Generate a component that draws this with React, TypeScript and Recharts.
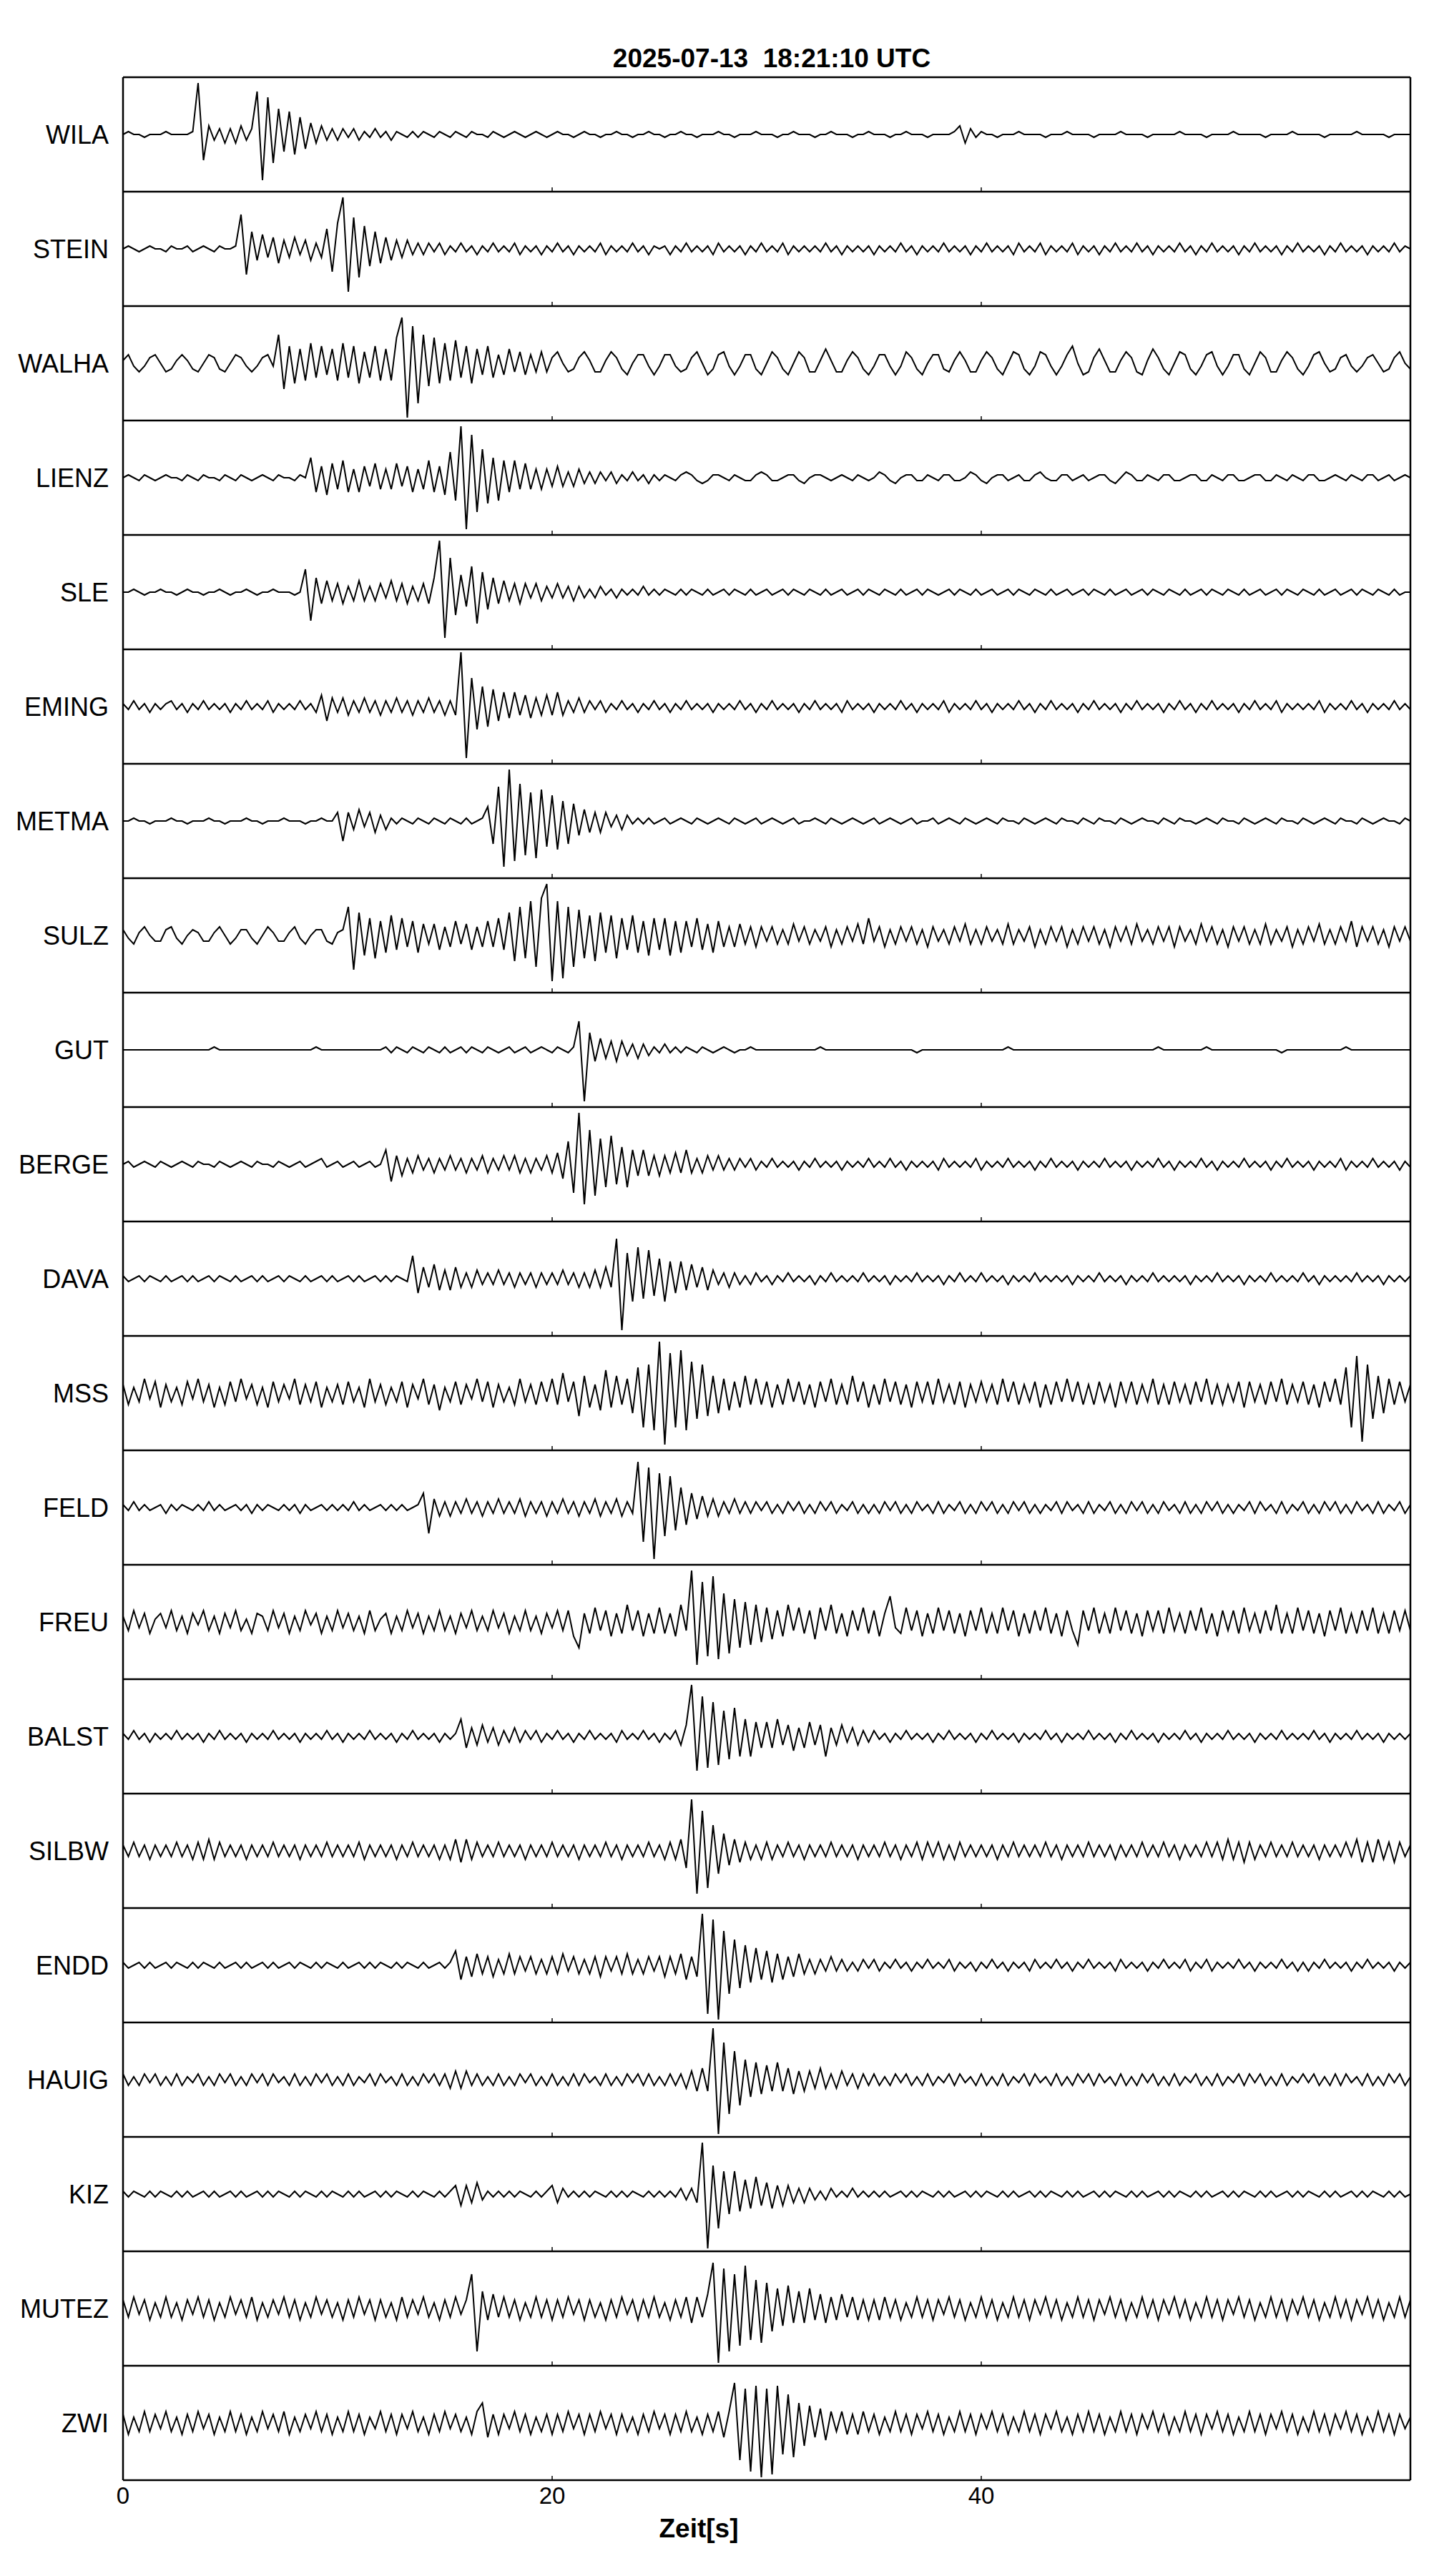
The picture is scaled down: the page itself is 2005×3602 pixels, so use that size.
import React from "react";
import { LineChart, Line, XAxis, YAxis, ReferenceLine } from "recharts";

// station names, top to bottom
const STATIONS = ["WILA", "STEIN", "WALHA", "LIENZ", "SLE", "EMING", "METMA", "SULZ", "GUT", "BERGE", "DAVA", "MSS", "FELD", "FREU", "BALST", "SILBW", "ENDD", "HAUIG", "KIZ", "MUTEZ", "ZWI"];

// x axis
const X_TICKS = [0, 20, 40];
const STEP = 0.25; // seconds between samples

// traces, amplitude in panel units (+-20 = panel edge), one sample per 0.25 s
const wila = [
  0, 1, 0, 0, -1, 0, 0, 0, 1, 0, 0, 0, 0, 1, 18, -9, 3, -2, 2, -3,
  2, -3, 3, -2, 2, 15, -16, 13, -10, 9, -6, 8, -7, 6, -5, 4, -3, 3, -2, 2,
  -2, 2, -1, 2, -2, 1, -1, 2, -1, 1, -2, 1, 0, -1, 1, -1, 1, 0, -1, 1,
  0, -1, 1, 0, -1, 1, 0, 0, -1, 1, 0, -1, 0, 1, 0, -1, 0, 1, 0, -1,
  0, 1, 0, 0, -1, 0, 1, 0, 0, -1, 0, 0, 1, 0, 0, -1, 0, 0, 1, 0,
  0, -1, 0, 0, 1, 0, 0, -1, 0, 0, 0, 1, 0, 0, -1, 0, 0, 0, 1, 0,
  0, 0, -1, 0, 0, 1, 0, 0, 0, -1, 0, 0, 1, 0, 0, 0, -1, 0, 0, 1,
  0, 0, 0, -1, 0, 0, 1, 0, 0, 0, -1, 0, 0, 0, 0, 1, 3, -3, 2, -1,
  1, 0, 0, -1, 0, 0, 0, 1, 0, 0, 0, 0, -1, 0, 0, 0, 1, 0, 0, 0,
  0, -1, 0, 0, 0, 0, 1, 0, 0, 0, 0, -1, 0, 0, 0, 0, 0, 1, 0, 0,
  0, 0, -1, 0, 0, 0, 0, 1, 0, 0, 0, 0, 0, -1, 0, 0, 0, 0, 1, 0,
  0, 0, 0, 0, -1, 0, 0, 0, 0, 0, 1, 0, 0, 0, 0, 0, -1, 0, 0, 0, 0,
];
const stein = [
  0, 1, 0, -1, 0, 1, 0, 0, -1, 1, 0, 0, 1, -1, 0, 1, 0, -1, 1, 0,
  0, 1, 12, -9, 6, -4, 5, -3, 4, -5, 3, -3, 4, -2, 3, -4, 2, -3, 7, -8,
  9, 18, -15, 11, -10, 8, -6, 6, -5, 4, -4, 3, -3, 3, -2, 2, -2, 2, -1, 2,
  -2, 1, -1, 2, -1, 1, -2, 1, -1, 2, -1, 1, -1, 2, -2, 1, -1, 1, -2, 1,
  -1, 2, -1, 1, -2, 1, -1, 1, -1, 2, -2, 1, -1, 1, -1, 2, -1, 1, -2, 1,
  0, 1, -2, 1, -1, 2, -1, 1, -1, 1, -2, 2, -1, 1, -1, 1, -2, 1, -1, 2,
  -1, 1, -1, 2, -2, 1, -1, 1, -1, 1, -1, 2, -1, 1, -2, 1, -1, 1, -1, 1,
  -2, 1, -1, 1, -1, 2, -1, 1, -2, 1, -1, 1, -1, 2, -1, 1, -1, 1, -2, 1,
  -1, 2, -1, 1, -1, 1, -2, 2, -1, 1, -1, 2, -2, 1, -1, 1, -1, 2, -2, 1,
  -1, 1, -2, 1, -1, 2, -1, 1, -1, 2, -1, 1, -2, 1, -1, 1, -1, 2, -1, 1,
  -2, 1, -1, 2, -1, 1, -1, 1, -2, 1, -1, 2, -1, 1, -1, 1, -2, 1, -1, 2,
  -1, 1, -1, 1, -2, 1, -1, 2, -1, 1, -1, 1, -2, 1, -1, 1, -1, 2, -1, 1, 0,
];
const walha = [
  1, 3, -1, -3, -1, 2, 3, 0, -3, -2, 1, 3, 1, -2, -3, 0, 3, 2, -2, -3,
  0, 3, 2, -1, -3, -1, 2, 3, -1, 10, -9, 6, -7, 5, -6, 7, -5, 6, -4, 5,
  -6, 7, -5, 6, -7, 4, -5, 6, -6, 5, -6, 9, 16, -19, 13, -14, 10, -8, 9, -7,
  7, -6, 8, -5, 6, -7, 5, -4, 6, -5, 3, -4, 5, -3, 4, -4, 3, -3, 4, -3,
  2, 4, 0, -3, -2, 2, 4, 1, -3, -3, 1, 4, 2, -2, -4, 0, 3, 3, -1, -4,
  -1, 3, 3, -1, -3, -2, 2, 4, 0, -4, -2, 3, 4, -1, -4, -1, 3, 3, -2, -4,
  0, 4, 2, -2, -4, 0, 4, 2, -3, -3, 1, 5, 1, -3, -3, 1, 4, 2, -2, -4,
  -1, 3, 3, -1, -4, -1, 4, 2, -2, -4, 0, 3, 3, -2, -3, 1, 4, 1, -3, -3,
  1, 4, 2, -2, -4, 0, 4, 3, -2, -4, -1, 4, 3, -1, -4, -1, 3, 6, 0, -4,
  -3, 2, 5, 1, -3, -3, 1, 4, 2, -3, -4, 1, 5, 2, -2, -4, 0, 4, 3, -2,
  -4, -1, 3, 4, -1, -4, -1, 3, 3, -2, -4, 0, 4, 2, -3, -3, 1, 4, 2, -2,
  -4, -1, 3, 4, 0, -3, -2, 2, 3, -1, -3, -1, 2, 3, 0, -3, -2, 2, 4, 0, -2,
];
const lienz = [
  0, 1, 0, -1, 1, 0, -1, 0, 1, 0, 0, -1, 1, 0, -1, 1, 0, 0, -1, 1,
  0, -1, 1, 0, -1, 0, 1, 0, -1, 1, 0, 0, -1, 1, 0, 7, -5, 4, -6, 5,
  -4, 6, -5, 3, -5, 4, -3, 5, -4, 3, -4, 5, -3, 4, -5, 3, -4, 6, -5, 4,
  -6, 9, -8, 18, -18, 15, -12, 10, -9, 7, -8, 6, -5, 6, -4, 5, -4, 3, -4, 3,
  -3, 4, -3, 2, -3, 3, -2, 2, -2, 2, -1, 2, -2, 1, -1, 2, -1, 1, -2, 1,
  -1, 1, 0, -1, 1, 2, 1, -1, -2, -1, 1, 1, 0, -1, 1, 0, -1, -1, 1, 2,
  1, -1, -1, 0, 1, 1, -1, -2, 0, 1, 1, 0, -1, 0, 1, 0, -1, 1, 0, -1,
  0, 2, 1, -1, -2, 0, 1, 1, -1, -1, 1, 0, -1, 1, 1, -1, -1, 0, 2, 1,
  -1, -2, 0, 1, 1, -1, 0, 1, -1, -1, 1, 2, 0, -1, -1, 1, 1, -1, 0, 1,
  -1, 0, 1, 1, -1, -2, 0, 2, 1, -1, -1, 1, 0, -1, 1, 1, -1, -1, 0, 1,
  1, -1, -1, 1, 0, -1, 1, 1, -1, -1, 0, 1, 1, -1, -1, 1, 0, -1, 1, 0,
  -1, 1, 1, -1, -1, 0, 1, 0, -1, 1, 0, -1, 1, 1, -1, 0, 1, -1, 0, 1, 0,
];
const sle = [
  0, 0, 1, 0, -1, 0, 0, 1, 0, 0, -1, 0, 1, 0, 0, -1, 0, 0, 1, 0,
  -1, 0, 0, 1, 0, -1, 0, 0, 1, 0, 0, 0, -1, 0, 8, -10, 5, -4, 4, -3,
  3, -4, 2, -3, 4, -3, 2, -3, 3, -2, 4, -3, 3, -4, 2, -3, 3, -4, 5, 18,
  -16, 12, -8, 6, -5, 9, -11, 7, -6, 5, -4, 4, -3, 3, -4, 3, -2, 3, -3, 2,
  -2, 3, -2, 2, -3, 2, -2, 1, -2, 2, -1, 1, -2, 1, -1, 1, -1, 2, -1, 1,
  -1, 1, 0, -1, 1, -1, 1, 0, -1, 1, -1, 0, 1, -1, 1, 0, -1, 1, -1, 0,
  1, -1, 0, 1, -1, 1, 0, -1, 1, 0, -1, 1, -1, 0, 1, -1, 0, 1, -1, 1,
  0, -1, 1, 0, -1, 1, -1, 0, 1, -1, 1, 0, -1, 0, 1, -1, 1, 0, -1, 1,
  -1, 0, 1, -1, 0, 1, -1, 1, 0, -1, 1, 0, -1, 1, -1, 0, 1, -1, 0, 1,
  -1, 1, 0, -1, 1, -1, 0, 1, -1, 0, 1, -1, 1, 0, -1, 1, 0, -1, 1, -1,
  0, 1, -1, 1, 0, -1, 1, 0, -1, 1, -1, 0, 1, -1, 0, 1, -1, 1, 0, -1,
  1, 0, -1, 1, -1, 0, 1, -1, 0, 1, -1, 1, 0, -1, 1, 0, -1, 1, -1, 0, 0,
];
const eming = [
  1, -1, 2, -1, 1, -2, 1, -1, 1, 2, -1, 1, -2, 1, -1, 2, -1, 1, -1, 1,
  -2, 1, -1, 2, -1, 1, -1, 2, -2, 1, -1, 1, -1, 2, -1, 1, -2, 4, -5, 3,
  -2, 3, -3, 2, -2, 3, -2, 2, -3, 2, -2, 3, -2, 2, -3, 2, -2, 3, -2, 2,
  -3, 2, -3, 19, -18, 10, -8, 7, -7, 6, -5, 5, -4, 5, -3, 4, -4, 3, -3, 4,
  -3, 5, -3, 2, -2, 3, -2, 2, -1, 2, -2, 1, -1, 2, -1, 1, -2, 1, -1, 2,
  -1, 1, -2, 1, -1, 2, -1, 1, -1, 1, -2, 1, -1, 1, -1, 2, -1, 1, -2, 1,
  -1, 2, -1, 1, -1, 1, -2, 1, -1, 2, -1, 1, -1, 1, -2, 2, -1, 1, -1, 1,
  -2, 1, -1, 1, -1, 2, -1, 1, -2, 1, -1, 1, -1, 2, -2, 1, -1, 1, -1, 2,
  -1, 1, -2, 1, -1, 1, -1, 2, -1, 1, -2, 1, -1, 2, -1, 1, -1, 1, -2, 1,
  -1, 2, -1, 1, -1, 1, -2, 1, -1, 2, -1, 1, -1, 1, -2, 1, -1, 2, -1, 1,
  -2, 1, -1, 2, -1, 1, -1, 1, -2, 1, -1, 2, -1, 1, -1, 2, -2, 1, -1, 1,
  -1, 1, -1, 2, -2, 1, -1, 1, -1, 2, -1, 1, -2, 1, -1, 1, -1, 2, -1, 1, -1,
];
const metma = [
  0, 0, 1, 0, 0, -1, 0, 0, 0, 1, 0, 0, -1, 0, 0, 0, 1, 0, 0, -1,
  0, 0, 0, 1, 0, 0, -1, 0, 0, 0, 1, 0, 0, 0, -1, 0, 0, 1, 0, 0,
  3, -7, 3, -3, 4, -2, 3, -4, 2, -3, 1, -1, 1, 0, -1, 1, 0, -1, 1, 0,
  -1, 1, 0, -1, 1, -1, 0, 1, 5, -8, 12, -16, 18, -14, 13, -12, 10, -13, 11, -9,
  9, -10, 7, -8, 6, -5, 4, -4, 3, -4, 3, -2, 2, -3, 2, -1, 1, -1, 1, -1,
  0, 1, -1, 0, 1, 0, -1, 1, 0, -1, 0, 1, 0, -1, 1, 0, -1, 0, 1, -1,
  0, 1, 0, -1, 0, 1, -1, 0, 0, 1, 0, -1, 1, 0, -1, 0, 1, 0, -1, 0,
  1, -1, 0, 1, 0, -1, 0, 1, -1, 0, 0, 1, -1, 0, 1, 0, -1, 1, 0, -1,
  0, 1, 0, -1, 1, 0, 0, -1, 1, 0, -1, 0, 1, 0, -1, 1, 0, 0, -1, 1,
  0, -1, 1, 0, 0, -1, 1, 0, -1, 0, 1, 0, 0, -1, 1, 0, -1, 1, 0, 0,
  -1, 0, 1, 0, -1, 1, 0, 0, -1, 1, 0, -1, 0, 1, 0, -1, 1, 0, 0, -1,
  1, 0, -1, 0, 1, 0, -1, 1, 0, 0, -1, 1, 0, -1, 0, 1, 0, 0, -1, 1, 0,
];
const sulz = [
  2, -1, -3, 1, 3, 0, -2, -2, 2, 3, -1, -3, 0, 2, 1, -2, -2, 1, 3, 0,
  -3, -1, 2, 2, -1, -3, 0, 3, 1, -2, -2, 1, 3, -1, -3, 0, 2, 2, -2, -3,
  1, 2, 10, -12, 8, -7, 6, -8, 5, -6, 7, -5, 6, -4, 5, -6, 4, -3, 4, -5,
  3, -4, 5, -3, 4, -5, 3, -4, 5, -4, 6, -5, 8, -9, 10, -8, 12, -11, 13, 18,
  -16, 12, -15, 10, -11, 9, -8, 7, -9, 8, -6, 7, -8, 6, -5, 7, -6, 5, -7, 6,
  -5, 6, -7, 5, -6, 5, -4, 6, -5, 4, -6, 5, -4, 3, -4, 4, -3, 3, -4, 3,
  -2, 3, -3, 2, -3, 4, -2, 3, -3, 2, -2, 3, -4, 2, -3, 3, -2, 4, -3, 6,
  -2, 3, -4, 2, -3, 3, -2, 3, -3, 2, -4, 3, -2, 2, -3, 3, -2, 4, -3, 2,
  -3, 3, -2, 2, -3, 4, -3, 2, -2, 3, -4, 2, -3, 3, -2, 3, -4, 2, -3, 3,
  -2, 3, -3, 2, -4, 3, -2, 3, -3, 4, -2, 2, -3, 3, -2, 3, -4, 3, -2, 2,
  -3, 4, -2, 3, -3, 2, -4, 3, -2, 3, -3, 2, -3, 4, -3, 2, -2, 3, -4, 2,
  -3, 3, -2, 4, -3, 2, -3, 3, -2, 5, -4, 3, -2, 3, -3, 2, -4, 3, -2, 3, -2,
];
const gut = [
  0, 0, 0, 0, 0, 0, 0, 0, 0, 0, 0, 0, 0, 0, 0, 0, 0, 1, 0, 0,
  0, 0, 0, 0, 0, 0, 0, 0, 0, 0, 0, 0, 0, 0, 0, 0, 1, 0, 0, 0,
  0, 0, 0, 0, 0, 0, 0, 0, 0, 1, -1, 1, 0, -1, 1, 0, -1, 1, 0, -1,
  1, -1, 0, 1, -1, 1, 0, -1, 1, 0, -1, 0, 1, -1, 0, 1, -1, 0, 1, 0,
  -1, 1, 0, -1, 1, 10, -18, 6, -4, 4, -3, 3, -4, 3, -2, 2, -3, 2, -2, 1,
  -1, 2, -1, 1, -1, 1, 0, -1, 1, 0, -1, 0, 1, 0, -1, 0, 0, 1, 0, 0,
  0, 0, 0, 0, 0, 0, 0, 0, 0, 0, 1, 0, 0, 0, 0, 0, 0, 0, 0, 0,
  0, 0, 0, 0, 0, 0, 0, 0, -1, 0, 0, 0, 0, 0, 0, 0, 0, 0, 0, 0,
  0, 0, 0, 0, 0, 1, 0, 0, 0, 0, 0, 0, 0, 0, 0, 0, 0, 0, 0, 0,
  0, 0, 0, 0, 0, 0, 0, 0, 0, 0, 0, 0, 0, 1, 0, 0, 0, 0, 0, 0,
  0, 0, 1, 0, 0, 0, 0, 0, 0, 0, 0, 0, 0, 0, 0, 0, -1, 0, 0, 0,
  0, 0, 0, 0, 0, 0, 0, 0, 1, 0, 0, 0, 0, 0, 0, 0, 0, 0, 0, 0, 0,
];
const berge = [
  0, 1, -1, 0, 1, 0, -1, 1, 0, -1, 0, 1, 0, -1, 1, 0, 0, -1, 1, 0,
  -1, 0, 1, 0, -1, 1, 0, 0, -1, 1, 0, -1, 0, 1, -1, 0, 1, 2, -1, 0,
  1, -1, 0, 1, -1, 0, 1, -1, 0, 5, -6, 3, -4, 2, -3, 3, -2, 2, -3, 2,
  -2, 3, -2, 2, -3, 2, -2, 3, -3, 2, -2, 3, -2, 3, -3, 2, -3, 2, -2, 3,
  -3, 4, -5, 8, -10, 18, -14, 12, -11, 9, -8, 10, -7, 6, -8, 5, -4, 5, -4, 3,
  -4, 3, -3, 4, -3, 5, -3, 2, -3, 3, -2, 3, -2, 2, -2, 2, -1, 2, -2, 1,
  -1, 2, -1, 1, -1, 1, -2, 1, -1, 2, -1, 1, -1, 1, -2, 1, -1, 1, -1, 2,
  -1, 1, -1, 2, -1, 1, -2, 1, -1, 1, -1, 1, -2, 2, -1, 1, -1, 1, -1, 2,
  -2, 1, -1, 1, -1, 2, -1, 1, -1, 1, -2, 1, -1, 2, -1, 1, -1, 1, -2, 1,
  -1, 1, -1, 2, -1, 1, -1, 1, -2, 1, -1, 1, -1, 2, -1, 1, -2, 1, -1, 1,
  -1, 2, -1, 1, -2, 1, -1, 1, -1, 2, -1, 1, -1, 1, -2, 1, -1, 2, -1, 1,
  -1, 1, -2, 1, -1, 1, -1, 2, -2, 1, -1, 1, -1, 2, -1, 1, -1, 1, -2, 1, -1,
];
const dava = [
  1, -1, 0, 1, -1, 1, 0, -1, 1, -1, 0, 1, -1, 1, -1, 0, 1, -1, 1, 0,
  -1, 1, -1, 0, 1, -1, 1, -1, 0, 1, -1, 1, 0, -1, 1, -1, 0, 1, -1, 1,
  -1, 0, 1, -1, 1, -1, 0, 1, -1, 1, -1, 1, 0, -1, 8, -5, 4, -3, 5, -4,
  3, -4, 4, -3, 2, -3, 3, -2, 2, -2, 3, -2, 2, -3, 2, -2, 2, -3, 2, -2,
  2, -2, 3, -2, 2, -3, 2, -3, 3, -3, 4, -3, 14, -18, 9, -8, 11, -7, 10, -6,
  7, -8, 6, -5, 6, -4, 5, -3, 4, -4, 3, -2, 2, -3, 2, -2, 1, -2, 2, -1,
  1, -2, 1, -1, 2, -1, 1, -1, 1, -2, 1, -1, 2, -1, 1, -1, 1, -1, 2, -1,
  1, -1, 1, -2, 1, -1, 1, -1, 2, -1, 1, -1, 1, -2, 1, -1, 2, -1, 1, -1,
  2, -1, 1, -1, 1, -2, 1, -1, 1, -1, 2, -1, 1, -1, 1, -1, 1, -2, 1, -1,
  1, -1, 2, -1, 1, -1, 1, -2, 1, -1, 1, -1, 2, -1, 1, -1, 1, -1, 1, -2,
  1, -1, 1, -1, 2, -1, 1, -1, 1, -2, 1, -1, 1, -1, 2, -1, 1, -1, 1, -1,
  2, -1, 1, -2, 1, -1, 1, -1, 1, -1, 2, -1, 1, -1, 1, -2, 1, -1, 1, -1, 1,
];
const mss = [
  3, -4, 2, -3, 5, -2, 4, -5, 3, -3, 2, -4, 4, -2, 5, -3, 3, -5, 2, -4,
  4, -3, 5, -2, 3, -4, 2, -5, 4, -3, 3, -2, 5, -4, 3, -3, 4, -5, 2, -3,
  3, -4, 4, -3, 2, -5, 5, -3, 3, -4, 2, -3, 4, -5, 3, -2, 5, -4, 3, -6,
  2, -3, 4, -4, 3, -2, 5, -3, 4, -5, 3, -3, 2, -4, 5, -3, 3, -4, 4, -3,
  5, -4, 7, -3, 4, -8, 6, -5, 3, -6, 8, -5, 6, -4, 5, -7, 9, -12, 10, -13,
  18, -18, 14, -12, 15, -13, 11, -9, 10, -8, 6, -7, 5, -6, 4, -5, 6, -4, 5, -4,
  4, -5, 3, -4, 5, -3, 4, -4, 3, -5, 4, -3, 5, -4, 3, -4, 6, -3, 4, -5,
  3, -4, 5, -3, 4, -4, 3, -5, 4, -3, 4, -4, 5, -3, 3, -4, 4, -5, 3, -3,
  4, -3, 3, -4, 5, -3, 4, -4, 3, -3, 4, -5, 3, -4, 4, -3, 5, -3, 4, -4,
  3, -4, 4, -3, 3, -5, 4, -3, 4, -4, 3, -3, 5, -4, 3, -4, 4, -3, 3, -4,
  4, -3, 5, -4, 3, -4, 3, -3, 4, -5, 4, -3, 3, -4, 4, -3, 5, -4, 3, -3,
  4, -4, 3, -5, 4, -3, 5, -4, 9, -12, 13, -17, 10, -9, 6, -7, 5, -4, 4, -3, 3,
];
const feld = [
  1, -1, 2, -1, 1, -1, 0, 1, -2, 1, -1, 1, 0, -1, 1, -1, 2, -1, 1, -1,
  0, 1, -1, 1, -2, 1, -1, 1, 0, -1, 1, -1, 1, -2, 1, -1, 0, 1, -1, 1,
  -1, 1, -1, 2, -1, 1, -1, 0, 1, -1, 1, -1, 1, -1, 0, 1, 5, -9, 3, -3,
  2, -3, 2, -2, 3, -2, 2, -3, 2, -2, 3, -2, 2, -2, 3, -3, 2, -2, 2, -3,
  2, -2, 3, -2, 2, -3, 2, -2, 3, -3, 2, -2, 3, -3, 2, -2, 16, -12, 14, -18,
  12, -10, 11, -8, 7, -6, 5, -4, 4, -3, 3, -3, 2, -2, 3, -2, 2, -2, 2, -1,
  2, -2, 1, -2, 2, -1, 2, -2, 1, -2, 2, -1, 2, -2, 1, -1, 2, -2, 1, -2,
  1, -2, 2, -1, 2, -2, 1, -2, 2, -1, 1, -2, 2, -2, 1, -1, 2, -2, 1, -2,
  2, -1, 2, -2, 1, -2, 2, -1, 2, -2, 1, -2, 1, -1, 2, -2, 2, -1, 1, -2,
  2, -2, 1, -1, 2, -2, 1, -2, 2, -1, 2, -2, 1, -2, 2, -1, 1, -2, 2, -2,
  1, -2, 2, -1, 2, -2, 1, -2, 1, -1, 2, -2, 2, -1, 1, -2, 2, -2, 1, -1,
  2, -2, 1, -2, 2, -1, 2, -2, 1, -2, 2, -1, 1, -2, 2, -2, 1, -1, 2, -2, 1,
];
const freu = [
  2, -3, 4, -2, 3, -4, 1, 3, -2, 4, -3, 2, -4, 3, -1, 4, -3, 2, -4, 3,
  -2, 4, -3, 1, -4, 3, 2, -3, 4, -2, 3, -4, 2, -3, 4, -1, 3, -4, 2, -3,
  4, -2, 3, -3, 2, -4, 4, -3, 1, 3, -4, 2, -3, 4, -2, 3, -4, 2, -3, 4,
  -3, 2, -4, 3, -2, 4, -3, 2, -3, 4, -2, 3, -4, 2, -3, 4, -3, 2, -4, 3,
  -2, 4, -3, 4, -5, -9, 3, -4, 5, -3, 4, -5, 3, -4, 6, -3, 4, -5, 3, -4,
  5, -4, 3, -5, 6, -3, 18, -15, 14, -12, 16, -13, 10, -11, 8, -9, 7, -8, 6, -7,
  5, -6, 4, -5, 6, -3, 5, -4, 4, -6, 5, -3, 6, -4, 3, -5, 4, -3, 5, -4,
  4, -5, 3, 9, -2, -4, 5, -3, 4, -5, 3, -4, 5, -3, 4, -4, 3, -5, 4, -3,
  5, -4, 3, -4, 5, -3, 4, -5, 3, -4, 4, -3, 5, -4, 3, -5, 4, -3, -8, 4,
  -3, 5, -4, 3, -4, 5, -3, 4, -4, 3, -5, 4, -3, 4, -4, 5, -3, 3, -4, 4,
  -3, 5, -4, 3, -5, 4, -3, 4, -4, 5, -3, 3, -4, 4, -3, 6, -4, 3, -4, 5,
  -3, 4, -4, 3, -5, 4, -3, 5, -4, 3, -4, 4, -3, 5, -4, 3, -4, 4, -3, 4, -3,
];
const balst = [
  1, -1, 2, -1, 1, -2, 1, -1, 1, -1, 2, -1, 1, -1, 1, -2, 1, -1, 2, -1,
  1, -1, 1, -2, 1, -1, 1, -1, 2, -1, 1, -1, 1, -2, 1, -1, 1, -1, 2, -1,
  1, -2, 1, -1, 1, -1, 2, -1, 1, -1, 1, -2, 1, -1, 2, -1, 1, -1, 1, -2,
  1, -1, 1, 6, -4, 3, -3, 4, -2, 3, -3, 2, -2, 3, -2, 2, -1, 2, -2, 1,
  -1, 2, -1, 1, -2, 1, -1, 2, -1, 1, -1, 1, -2, 2, -1, 1, -1, 2, -1, 1,
  -2, 1, -1, 2, -3, 4, 18, -12, 14, -11, 12, -10, 9, -8, 10, -7, 6, -7, 5, -4,
  5, -4, 6, -3, 4, -5, 3, -4, 5, -3, 4, -7, 3, -3, 4, -2, 3, -3, 2, -2,
  2, -1, 1, -2, 1, -1, 2, -1, 1, -1, 1, -2, 1, -1, 2, -1, 1, -1, 1, -2,
  1, -1, 2, -1, 1, -1, 1, -2, 1, -1, 1, -1, 2, -1, 1, -2, 1, -1, 1, -1,
  2, -1, 1, -1, 1, -2, 1, -1, 2, -1, 1, -1, 1, -2, 1, -1, 1, -1, 2, -1,
  1, -2, 1, -1, 1, -1, 2, -1, 1, -1, 1, -2, 1, -1, 1, -1, 2, -1, 1, -1,
  1, -1, 2, -1, 1, -2, 1, -1, 1, -1, 2, -1, 1, -1, 1, -2, 1, -1, 1, -1, 1,
];
const silbw = [
  2, -2, 3, -2, 2, -3, 2, -2, 2, -2, 3, -2, 2, -3, 3, -3, 4, -3, 3, -2,
  2, -2, 2, -3, 2, -2, 2, -2, 3, -2, 2, -2, 2, -3, 2, -2, 2, -2, 3, -2,
  2, -2, 2, -2, 3, -3, 2, -2, 2, -2, 2, -3, 2, -2, 3, -2, 2, -2, 2, -3,
  2, -3, 4, -4, 4, -3, 3, -2, 2, -2, 3, -2, 2, -2, 2, -3, 2, -2, 2, -2,
  3, -2, 2, -2, 2, -3, 2, -2, 2, -2, 3, -2, 2, -3, 2, -2, 2, -2, 3, -2,
  2, -3, 3, -3, 4, -6, 18, -15, 14, -13, 9, -8, 6, -5, 4, -4, 3, -3, 2, -3,
  3, -3, 2, -2, 3, -2, 2, -3, 2, -2, 2, -2, 3, -2, 2, -2, 2, -3, 2, -2,
  2, -2, 3, -2, 2, -3, 2, -2, 3, -3, 3, -2, 3, -3, 2, -3, 3, -2, 2, -2,
  2, -2, 2, -3, 2, -2, 3, -2, 2, -2, 2, -2, 3, -2, 2, -3, 2, -2, 2, -2,
  3, -2, 2, -2, 2, -3, 2, -2, 2, -2, 3, -2, 2, -2, 3, -2, 2, -3, 2, -2,
  2, -2, 3, -2, 3, -3, 4, -3, 3, -4, 3, -3, 2, -2, 3, -2, 2, -2, 3, -2,
  2, -2, 2, -3, 2, -2, 2, -2, 3, -2, 4, -4, 3, -4, 4, -3, 3, -4, 3, -2, 2,
];
const endd = [
  1, -1, 0, 1, -1, 1, -1, 0, 1, -1, 1, 0, -1, 1, -1, 1, 0, -1, 1, -1,
  0, 1, -1, 1, -1, 0, 1, -1, 1, -1, 0, 1, -1, 1, 0, -1, 1, -1, 1, 0,
  -1, 1, -1, 0, 1, -1, 1, -1, 1, 0, -1, 1, -1, 1, 0, -1, 1, -1, 0, 1,
  -1, 1, 5, -5, 3, -4, 4, -3, 3, -4, 2, -3, 4, -3, 3, -2, 3, -3, 2, -3,
  3, -3, 4, -2, 3, -3, 2, -3, 3, -4, 3, -2, 3, -3, 4, -3, 2, -3, 3, -2,
  3, -4, 3, -3, 4, -5, 3, -4, 18, -17, 16, -19, 12, -10, 9, -8, 7, -6, 6, -5,
  5, -6, 4, -5, 3, -4, 4, -3, 2, -3, 2, -2, 3, -2, 2, -2, 1, -2, 2, -1,
  2, -2, 1, -1, 2, -1, 1, -2, 1, -1, 2, -1, 1, -1, 2, -2, 1, -1, 1, -2,
  1, -1, 2, -1, 1, -2, 1, -1, 1, -2, 2, -1, 1, -1, 2, -1, 1, -2, 1, -1,
  2, -1, 1, -1, 1, -2, 2, -1, 1, -1, 1, -2, 1, -1, 2, -1, 1, -1, 2, -2,
  1, -1, 2, -2, 1, -1, 1, -1, 2, -1, 1, -2, 1, -1, 1, -1, 2, -1, 1, -2,
  1, -2, 1, -1, 2, -1, 1, -1, 1, -2, 1, -1, 2, -1, 1, -1, 1, -2, 1, -1, 1,
];
const hauig = [
  2, -2, 1, -2, 2, -1, 2, -2, 1, -2, 2, -2, 1, -1, 2, -2, 1, -2, 2, -1,
  2, -2, 1, -2, 2, -1, 2, -2, 2, -1, 1, -2, 2, -2, 1, -2, 2, -1, 2, -2,
  1, -2, 2, -2, 1, -1, 2, -2, 2, -1, 1, -2, 2, -2, 1, -2, 2, -1, 2, -2,
  2, -3, 3, -3, 3, -2, 2, -2, 1, -2, 2, -2, 1, -2, 2, -1, 2, -2, 1, -2,
  2, -2, 1, -2, 2, -2, 2, -1, 1, -2, 2, -2, 1, -2, 2, -1, 2, -2, 2, -2,
  1, -2, 2, -2, 2, -3, 3, -4, 4, -4, 18, -19, 13, -12, 10, -9, 7, -6, 6, -5,
  5, -4, 6, -4, 4, -5, 3, -4, 3, -3, 4, -3, 2, -3, 3, -2, 2, -3, 2, -2,
  2, -2, 1, -2, 2, -1, 2, -2, 1, -2, 2, -2, 1, -1, 2, -2, 2, -1, 1, -2,
  2, -2, 1, -2, 2, -2, 1, -1, 2, -2, 2, -1, 1, -2, 2, -2, 1, -2, 2, -1,
  2, -2, 2, -1, 1, -2, 2, -2, 1, -2, 2, -1, 2, -2, 1, -2, 2, -2, 1, -1,
  2, -2, 1, -2, 2, -2, 1, -1, 2, -2, 2, -1, 2, -2, 1, -2, 2, -2, 1, -1,
  2, -1, 2, -2, 1, -2, 2, -2, 2, -1, 1, -2, 2, -2, 1, -2, 2, -1, 2, -2, 1,
];
const kiz = [
  1, -1, 1, 0, -1, 1, -1, 1, 0, -1, 1, -1, 1, -1, 0, 1, -1, 1, -1, 0,
  1, -1, 1, -1, 0, 1, -1, 1, -1, 1, 0, -1, 1, -1, 1, 0, -1, 1, -1, 1,
  0, -1, 1, -1, 1, -1, 0, 1, -1, 1, -1, 1, 0, -1, 1, -1, 1, 0, -1, 1,
  -1, 1, 3, -4, 3, -3, 4, -2, 1, -1, 1, -1, 1, -1, 1, 0, -1, 1, -1, 1,
  3, -3, 2, -1, 1, -1, 1, -1, 1, 0, -1, 1, -1, 1, -1, 1, 0, -1, 1, -1,
  1, -1, 1, -1, 2, -2, 2, -3, 18, -19, 10, -12, 8, -7, 8, -6, 5, -5, 6, -4,
  4, -5, 3, -4, 3, -3, 2, -3, 2, -2, 1, -2, 2, -1, 1, -1, 2, -1, 1, -1,
  1, -1, 1, -1, 0, 1, -1, 1, -1, 1, 0, -1, 1, -1, 1, -1, 0, 1, -1, 1,
  -1, 1, 0, -1, 1, -1, 1, -1, 0, 1, -1, 1, -1, 1, 0, -1, 1, -1, 1, -1,
  0, 1, -1, 1, -1, 1, 0, -1, 1, -1, 1, -1, 0, 1, -1, 1, -1, 1, 0, -1,
  1, -1, 1, -1, 0, 1, -1, 1, -1, 1, 0, -1, 1, -1, 1, -1, 0, 1, -1, 1,
  -1, 1, 0, -1, 1, -1, 1, -1, 0, 1, -1, 1, -1, 1, 0, -1, 1, -1, 1, -1, 0,
];
const mutez = [
  3, -3, 4, -2, 3, -4, 2, -3, 4, -3, 2, -4, 3, -2, 4, -3, 3, -4, 2, -3,
  4, -2, 3, -3, 4, -4, 2, -3, 3, -2, 4, -3, 3, -4, 2, -3, 4, -2, 3, -3,
  2, -4, 3, -3, 4, -2, 3, -4, 3, -3, 2, -4, 4, -3, 3, -2, 4, -3, 2, -4,
  3, -3, 4, -2, 3, 12, -15, 6, -4, 5, -3, 4, -3, 3, -4, 2, -3, 4, -3, 3,
  -4, 3, -3, 4, -2, 3, -4, 3, -3, 2, -4, 3, -3, 4, -2, 3, -4, 3, -3, 4,
  -3, 2, -4, 3, -3, 4, -5, 4, -3, 5, 16, -19, 14, -15, 12, -13, 15, -11, 10, -12,
  9, -8, 7, -6, 8, -5, 6, -5, 7, -4, 5, -5, 4, -4, 5, -3, 4, -4, 3, -4,
  3, -4, 4, -3, 3, -4, 2, -3, 4, -3, 3, -4, 3, -2, 4, -3, 3, -4, 2, -3,
  4, -3, 3, -4, 2, -3, 4, -3, 3, -4, 3, -2, 4, -3, 3, -4, 2, -3, 4, -3,
  3, -4, 3, -2, 4, -3, 3, -4, 2, -3, 4, -3, 3, -4, 3, -2, 4, -3, 3, -4,
  2, -3, 4, -3, 3, -4, 3, -2, 4, -3, 3, -4, 2, -3, 4, -3, 3, -4, 3, -2,
  4, -3, 3, -4, 2, -3, 4, -3, 3, -4, 3, -2, 4, -3, 3, -4, 2, -3, 4, -3, 3,
];
const zwi = [
  3, -4, 2, -3, 4, -3, 3, -2, 4, -3, 2, -4, 3, -3, 4, -2, 3, -4, 2, -3,
  4, -3, 3, -4, 2, -3, 4, -2, 3, -3, 4, -4, 2, -3, 3, -2, 4, -3, 3, -4,
  2, -3, 4, -3, 3, -4, 2, -2, 4, -3, 3, -4, 3, -2, 4, -3, 2, -4, 3, -3,
  4, -2, 3, -3, 2, -4, 4, 7, -5, 3, -4, 3, -2, 4, -3, 3, -4, 2, -3, 3,
  -4, 3, -3, 4, -2, 3, -4, 3, -3, 4, -2, 3, -4, 3, -3, 2, -4, 3, -3, 4,
  -2, 3, -4, 3, -3, 4, -3, 2, -4, 3, -3, 4, -5, 4, 14, -13, 12, -17, 13, -19,
  12, -18, 13, -11, 10, -12, 7, -8, 6, -5, 5, -6, 4, -3, 4, -4, 3, -4, 4, -3,
  3, -4, 2, -3, 4, -3, 3, -4, 3, -2, 4, -3, 3, -4, 2, -3, 4, -3, 3, -4,
  3, -2, 4, -3, 3, -4, 2, -3, 4, -3, 3, -4, 3, -2, 4, -3, 2, -4, 3, -3,
  4, -3, 3, -4, 2, -3, 4, -3, 3, -4, 3, -2, 4, -3, 3, -4, 2, -3, 4, -3,
  3, -4, 3, -2, 4, -3, 3, -4, 2, -3, 4, -3, 3, -4, 3, -2, 4, -3, 3, -4,
  2, -3, 4, -3, 3, -4, 3, -2, 4, -3, 3, -4, 2, -3, 4, -3, 3, -4, 3, -2, 2,
];

const TRACES = [wila, stein, walha, lienz, sle, eming, metma, sulz, gut, berge, dava, mss, feld, freu, balst, silbw, endd, hauig, kiz, mutez, zwi];

// layout of the stacked panels (data units)
const PANEL = 40;
const HALF = PANEL / 2;
const N = STATIONS.length;
const TOP = N * PANEL;
const T_MAX = 60;
const TICK_LEN = 1.5;

const centerOf = (k: number) => (N - 1 - k) * PANEL + HALF;
const centers = STATIONS.map((_, k) => centerOf(k));
const boundaries = Array.from({ length: N + 1 }, (_, k) => k * PANEL);

const len = Math.max(...TRACES.map((t) => t.length));
const data = Array.from({ length: len }, (_, i) => {
  const row: Record<string, number> = { t: i * STEP };
  TRACES.forEach((tr, k) => {
    if (tr[i] !== undefined) row[STATIONS[k]] = tr[i] + centerOf(k);
  });
  return row;
});

const FONT = "'Liberation Sans', Arial, Helvetica, sans-serif";

export default function App() {
  return (
    <div style={{ position: "absolute", left: 0, top: 0, width: 2005, height: 3602, background: "#fff", fontFamily: FONT }}>
      <div
        style={{ position: "absolute", left: 179, top: 63, width: 1800, textAlign: "center", fontSize: 37, lineHeight: "37px", fontWeight: "bold", whiteSpace: "pre", color: "#000" }}
      >
        2025-07-13  18:21:10 UTC
      </div>

      <LineChart width={2005} height={3602} data={data} margin={{ top: 108, right: 33, bottom: 94, left: 0 }}>
        <XAxis
          dataKey="t"
          type="number"
          domain={[0, T_MAX]}
          ticks={X_TICKS}
          axisLine={false}
          tickLine={false}
          tickSize={0}
          tickMargin={10}
          height={40}
          tick={{ fontSize: 33, fill: "#000", fontFamily: FONT }}
        />
        <YAxis
          type="number"
          domain={[0, TOP]}
          ticks={centers}
          interval={0}
          width={172}
          axisLine={false}
          tickLine={false}
          tickSize={0}
          tickMargin={20}
          tickFormatter={(v: number) => STATIONS[(TOP - HALF - v) / PANEL] ?? ""}
          tick={{ fontSize: 36, fill: "#000", fontFamily: FONT }}
        />

        {STATIONS.map((s) => (
          <Line key={s} dataKey={s} type="linear" stroke="#000" strokeWidth={2} dot={false} activeDot={false} isAnimationActive={false} />
        ))}

        {/* frame and panel separators */}
        {boundaries.map((b) => (
          <ReferenceLine key={`b-${b}`} y={b} stroke="#000" strokeWidth={2.5} />
        ))}
        <ReferenceLine x={0} stroke="#000" strokeWidth={2.5} />
        <ReferenceLine x={T_MAX} stroke="#000" strokeWidth={2.5} />

        {/* small inward ticks at the bottom of every panel */}
        {boundaries.slice(0, N).flatMap((b) =>
          X_TICKS.filter((x) => x > 0).map((x) => (
            <ReferenceLine
              key={`t-${b}-${x}`}
              segment={[
                { x, y: b },
                { x, y: b + TICK_LEN },
              ]}
              stroke="#000"
              strokeWidth={1.5}
            />
          ))
        )}
      </LineChart>

      <div
        style={{ position: "absolute", left: 777, top: 3517, width: 400, textAlign: "center", fontSize: 37, lineHeight: "37px", fontWeight: "bold", color: "#000" }}
      >
        Zeit[s]
      </div>
    </div>
  );
}
